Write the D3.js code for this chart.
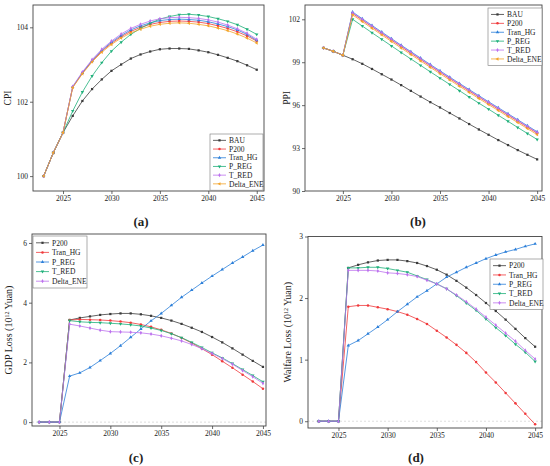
<!DOCTYPE html>
<html>
<head>
<meta charset="utf-8">
<script src="https://cdn.jsdelivr.net/npm/d3@7"></script>
<style>
  body { margin: 0; background: #fff; }
  svg text { font-family: "Liberation Serif", "DejaVu Serif", serif; fill: #222; }
</style>
</head>
<body>
<div id="chart"></div>
<script>
// ---- data ----
var years = d3.range(2023, 2046);
var xTicks = [2025, 2030, 2035, 2040, 2045];

// (a) CPI
var cpiNames = ["BAU", "P200", "Tran_HG", "P_REG", "T_RED", "Delta_ENE"];
var cpiStart = [100, 100.63, 101.17];
var cpiBAU = cpiStart.concat([101.62, 102.02, 102.34, 102.60, 102.83, 103.00, 103.16, 103.27, 103.35, 103.41, 103.43, 103.43, 103.42, 103.38, 103.33, 103.26, 103.18, 103.09, 102.98, 102.86]);
var cpiP200 = cpiStart.concat([102.39, 102.77, 103.09, 103.36, 103.57, 103.75, 103.89, 104.00, 104.08, 104.13, 104.16, 104.17, 104.16, 104.14, 104.10, 104.04, 103.97, 103.88, 103.77, 103.63]);
var cpiTranHG = cpiStart.concat([102.40, 102.78, 103.11, 103.38, 103.60, 103.78, 103.93, 104.04, 104.12, 104.18, 104.21, 104.22, 104.21, 104.19, 104.15, 104.09, 104.02, 103.93, 103.81, 103.65]);
var cpiPREG = cpiStart.concat([101.75, 102.26, 102.69, 103.05, 103.36, 103.60, 103.81, 103.97, 104.11, 104.22, 104.29, 104.34, 104.35, 104.33, 104.29, 104.23, 104.16, 104.07, 103.95, 103.81]);
var cpiTRED = cpiStart.concat([102.41, 102.80, 103.13, 103.41, 103.63, 103.82, 103.97, 104.08, 104.17, 104.23, 104.26, 104.27, 104.26, 104.24, 104.20, 104.14, 104.06, 103.96, 103.84, 103.68]);
var cpiDeltaENE = cpiStart.concat([102.38, 102.75, 103.07, 103.33, 103.54, 103.71, 103.85, 103.95, 104.03, 104.08, 104.11, 104.12, 104.11, 104.08, 104.04, 103.98, 103.91, 103.82, 103.71, 103.58]);

// (b) PPI
var ppiStart = [100.0, 99.77, 99.49];
var ppiBAU = ppiStart.concat([99.21, 98.89, 98.53, 98.16, 97.79, 97.40, 97.00, 96.60, 96.21, 95.84, 95.45, 95.07, 94.68, 94.30, 93.93, 93.56, 93.21, 92.86, 92.53, 92.21]);
var ppiP200 = ppiStart.concat([102.41, 101.94, 101.47, 101.01, 100.55, 100.09, 99.64, 99.19, 98.74, 98.30, 97.86, 97.42, 96.99, 96.56, 96.14, 95.72, 95.30, 94.88, 94.46, 94.04]);
var ppiTranHG = ppiStart.concat([102.51, 102.04, 101.57, 101.11, 100.65, 100.19, 99.74, 99.29, 98.84, 98.40, 97.96, 97.52, 97.09, 96.66, 96.24, 95.82, 95.40, 94.98, 94.56, 94.14]);
var ppiPREG = ppiStart.concat([102.00, 101.53, 101.06, 100.60, 100.14, 99.68, 99.23, 98.78, 98.33, 97.89, 97.45, 97.01, 96.57, 96.14, 95.72, 95.29, 94.87, 94.44, 94.02, 93.60]);
var ppiTRED = ppiStart.concat([102.46, 101.99, 101.52, 101.06, 100.60, 100.14, 99.69, 99.24, 98.79, 98.35, 97.91, 97.47, 97.04, 96.61, 96.19, 95.77, 95.35, 94.93, 94.51, 94.09]);
var ppiDeltaENE = ppiStart.concat([102.31, 101.84, 101.37, 100.91, 100.45, 99.99, 99.54, 99.09, 98.64, 98.20, 97.76, 97.32, 96.89, 96.46, 96.04, 95.62, 95.20, 94.78, 94.36, 93.94]);

// (c) GDP loss
var lossNames = ["P200", "Tran_HG", "P_REG", "T_RED", "Delta_ENE"];
var zeroStart = [0, 0, 0];
var gdpP200 = zeroStart.concat([3.42, 3.49, 3.54, 3.59, 3.62, 3.64, 3.64, 3.61, 3.56, 3.49, 3.40, 3.29, 3.16, 3.02, 2.85, 2.67, 2.47, 2.26, 2.05, 1.85]);
var gdpTranHG = zeroStart.concat([3.42, 3.44, 3.43, 3.42, 3.40, 3.37, 3.33, 3.27, 3.19, 3.09, 2.97, 2.82, 2.65, 2.46, 2.26, 2.04, 1.82, 1.59, 1.36, 1.12]);
var gdpPREG = zeroStart.concat([1.54, 1.65, 1.83, 2.06, 2.30, 2.56, 2.84, 3.12, 3.39, 3.64, 3.91, 4.18, 4.42, 4.66, 4.89, 5.11, 5.33, 5.53, 5.74, 5.93]);
var gdpTRED = zeroStart.concat([3.40, 3.36, 3.34, 3.33, 3.31, 3.29, 3.26, 3.22, 3.15, 3.07, 2.96, 2.83, 2.67, 2.50, 2.32, 2.15, 1.96, 1.76, 1.56, 1.35]);
var gdpDeltaENE = zeroStart.concat([3.28, 3.22, 3.15, 3.08, 3.03, 3.02, 3.01, 2.99, 2.95, 2.89, 2.81, 2.72, 2.60, 2.46, 2.30, 2.13, 1.94, 1.73, 1.52, 1.30]);

// (d) welfare loss
var welP200 = zeroStart.concat([2.49, 2.54, 2.58, 2.61, 2.62, 2.62, 2.60, 2.57, 2.52, 2.46, 2.38, 2.28, 2.17, 2.05, 1.92, 1.79, 1.65, 1.50, 1.35, 1.21]);
var welTranHG = zeroStart.concat([1.86, 1.88, 1.88, 1.85, 1.82, 1.78, 1.73, 1.66, 1.58, 1.47, 1.36, 1.24, 1.11, 0.96, 0.79, 0.63, 0.46, 0.29, 0.12, -0.05]);
var welPREG = zeroStart.concat([1.23, 1.31, 1.42, 1.53, 1.65, 1.78, 1.90, 2.02, 2.12, 2.23, 2.34, 2.42, 2.50, 2.57, 2.64, 2.70, 2.75, 2.79, 2.84, 2.88]);
var welTRED = zeroStart.concat([2.49, 2.49, 2.50, 2.50, 2.48, 2.45, 2.42, 2.36, 2.30, 2.23, 2.15, 2.04, 1.92, 1.80, 1.66, 1.52, 1.39, 1.25, 1.12, 0.97]);
var welDeltaENE = zeroStart.concat([2.45, 2.45, 2.45, 2.44, 2.41, 2.40, 2.38, 2.35, 2.29, 2.23, 2.15, 2.05, 1.94, 1.82, 1.69, 1.56, 1.43, 1.30, 1.15, 1.01]);

// Origin style: colours and symbols go by plot order
var palette = ["#3b3b3b", "#f03a3c", "#2b7fd9", "#1fb07a", "#bd72ee", "#f3a52b"];
var symbols = [
  {type: d3.symbolSquare, rot: 0},
  {type: d3.symbolCircle, rot: 0},
  {type: d3.symbolTriangle, rot: 0},
  {type: d3.symbolTriangle, rot: 180},
  {type: d3.symbolDiamond, rot: 0},
  {type: d3.symbolTriangle, rot: -90}
];

var W = 550, H = 466;
var svg = d3.select("#chart").append("svg")
  .attr("width", W)
  .attr("height", H);

function drawPanel(p) {
  var x = d3.scaleLinear().domain(p.xDomain).range([p.left, p.right]);
  var y = d3.scaleLinear().domain(p.yDomain).range([p.bottom, p.top]);
  var g = svg.append("g");

  if (p.zeroLine) {
    g.append("line")
      .attr("x1", p.left).attr("x2", p.right)
      .attr("y1", y(0)).attr("y2", y(0))
      .attr("stroke", "#c8c8c8")
      .attr("stroke-width", 0.6)
      .attr("stroke-dasharray", "2,2");
  }

  var line = d3.line()
    .x(function(d, i) { return x(years[i]); })
    .y(function(d) { return y(d); });

  p.series.forEach(function(vals, k) {
    var col = palette[k];
    g.append("path")
      .datum(vals)
      .attr("d", line)
      .attr("fill", "none")
      .attr("stroke", col)
      .attr("stroke-width", 0.8);
    var sym = d3.symbol().type(symbols[k].type).size(5);
    g.selectAll(null)
      .data(vals)
      .enter().append("path")
      .attr("d", sym)
      .attr("transform", function(d, i) {
        return "translate(" + x(years[i]) + "," + y(d) + ") rotate(" + symbols[k].rot + ")";
      })
      .attr("fill", col);
  });

  // frame
  g.append("rect")
    .attr("x", p.left).attr("y", p.top)
    .attr("width", p.right - p.left)
    .attr("height", p.bottom - p.top)
    .attr("fill", "none")
    .attr("stroke", "#444")
    .attr("stroke-width", 0.9);

  var xAxis = g.append("g")
    .attr("transform", "translate(0," + p.bottom + ")")
    .call(d3.axisBottom(x).tickValues(xTicks).tickFormat(d3.format("d")).tickSize(3).tickSizeOuter(0).tickPadding(2));
  var yAxis = g.append("g")
    .attr("transform", "translate(" + p.left + ",0)")
    .call(d3.axisLeft(y).tickValues(p.yTicks).tickFormat(d3.format("d")).tickSize(3).tickSizeOuter(0).tickPadding(2));
  [xAxis, yAxis].forEach(function(a) {
    a.select(".domain").remove();
    a.selectAll(".tick line").attr("stroke", "#444").attr("stroke-width", 0.8);
    a.selectAll(".tick text")
      .style("font-family", "'Liberation Serif', serif")
      .style("font-size", "7.5px")
      .attr("fill", "#222");
  });

  // y title
  var title = g.append("text")
    .attr("transform", "translate(" + p.titleX + "," + ((p.top + p.bottom) / 2) + ") rotate(-90)")
    .attr("text-anchor", "middle")
    .style("font-size", p.titleSize + "px");
  title.append("tspan").text(p.title);
  if (p.titleSup) {
    title.append("tspan").attr("baseline-shift", "super").style("font-size", "6px").text(p.titleSup);
    title.append("tspan").text(p.titleEnd);
  }

  // panel letter
  g.append("text")
    .attr("x", p.labelX).attr("y", p.labelY)
    .attr("text-anchor", "middle")
    .style("font-size", "13px")
    .style("font-weight", "bold")
    .text("(" + p.letter + ")");

  // legend
  var L = p.legend, rowH = L.rowH;
  var lg = g.append("g").attr("transform", "translate(" + L.x + "," + L.y + ")");
  lg.append("rect")
    .attr("width", L.w)
    .attr("height", rowH * p.names.length + 4)
    .attr("fill", "#fff")
    .attr("stroke", "#777")
    .attr("stroke-width", 0.6);
  p.names.forEach(function(name, k) {
    var cy = 2 + rowH * (k + 0.5);
    lg.append("line")
      .attr("x1", 3).attr("x2", 16)
      .attr("y1", cy).attr("y2", cy)
      .attr("stroke", palette[k]).attr("stroke-width", 0.8);
    lg.append("path")
      .attr("d", d3.symbol().type(symbols[k].type).size(5))
      .attr("transform", "translate(9.5," + cy + ") rotate(" + symbols[k].rot + ")")
      .attr("fill", palette[k]);
    lg.append("text")
      .attr("x", 19).attr("y", cy + 2.7)
      .style("font-size", "7.5px")
      .text(name);
  });
}

drawPanel({
  letter: "a", left: 33, right: 264, top: 5, bottom: 191,
  xDomain: [2021.9, 2045.75], yDomain: [99.6, 104.6], yTicks: [100, 102, 104],
  series: [cpiBAU, cpiP200, cpiTranHG, cpiPREG, cpiTRED, cpiDeltaENE],
  names: cpiNames,
  title: "CPI", titleX: 11, titleSize: 9.5,
  labelX: 141, labelY: 226,
  legend: {x: 210, y: 134, w: 53, rowH: 8.7}
});

drawPanel({
  letter: "b", left: 305, right: 542, top: 5, bottom: 191,
  xDomain: [2021.1, 2045.5], yDomain: [90, 103], yTicks: [90, 93, 96, 99, 102],
  series: [ppiBAU, ppiP200, ppiTranHG, ppiPREG, ppiTRED, ppiDeltaENE],
  names: cpiNames,
  title: "PPI", titleX: 290, titleSize: 9.5,
  labelX: 418, labelY: 226,
  legend: {x: 488, y: 8, w: 54, rowH: 8.9}
});

drawPanel({
  letter: "c", left: 32, right: 266, top: 234, bottom: 426,
  xDomain: [2022.3, 2045.3], yDomain: [-0.13, 6.3], yTicks: [0, 2, 4, 6],
  series: [gdpP200, gdpTranHG, gdpPREG, gdpTRED, gdpDeltaENE],
  names: lossNames, zeroLine: true,
  title: "GDP Loss (10", titleSup: "12", titleEnd: " Yuan)", titleX: 12, titleSize: 10,
  labelX: 136, labelY: 462,
  legend: {x: 33, y: 236, w: 54, rowH: 9.6}
});

drawPanel({
  letter: "d", left: 308, right: 542, top: 236.5, bottom: 428,
  xDomain: [2021.9, 2045.7], yDomain: [-0.11, 3.0], yTicks: [0, 1, 2, 3],
  series: [welP200, welTranHG, welPREG, welTRED, welDeltaENE],
  names: lossNames, zeroLine: true,
  title: "Walfare Loss (10", titleSup: "12", titleEnd: " Yuan)", titleX: 291, titleSize: 10,
  labelX: 416, labelY: 462,
  legend: {x: 490, y: 259, w: 53, rowH: 9.3}
});
</script>
</body>
</html>
